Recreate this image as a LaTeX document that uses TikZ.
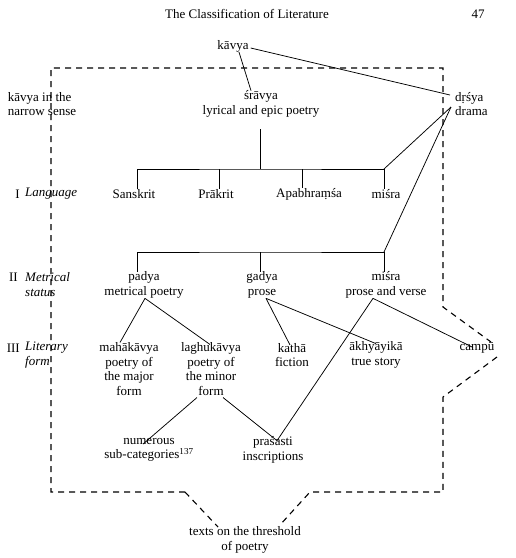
\documentclass[tikz,border=0pt]{standalone}
\usepackage{fontspec}
\setmainfont{Liberation Serif}
\begin{document}
\begin{tikzpicture}[x=1pt,y=-1pt,
  every node/.style={inner sep=0pt, font=\fontsize{13}{14.5}\selectfont},
  txt/.style={align=center},
  conn/.style={line width=0.75pt},
  frame/.style={line width=1.1pt, dash pattern=on 6pt off 5pt}]
\useasboundingbox (0,0) rectangle (516,558);
% header
\node (title) at (247,14) {The Classification of Literature};
\node (page) at (478,14) {47};
% top level
\node (kavya) at (233,46) {kāvya};
\node[txt, align=left] (narrow) at (42,104) {kāvya in the\\narrow sense};
\node[txt] (srav) at (261,104) {śrāvya\\lyrical and epic poetry};
\node[txt, align=left, anchor=west] (drsya) at (455,104) {dṛśya\\drama};
% row labels
\node[anchor=east] (n1) at (20,194) {I};
\node[anchor=west, font=\fontsize{13}{14.5}\selectfont\itshape] (l1) at (25,194) {Language};
\node[anchor=east] (n2) at (18,277) {II};
\node[anchor=west, align=left, font=\fontsize{13}{14.5}\selectfont\itshape] (l2) at (25,284.5) {Metrical\\status};
\node[anchor=east] (n3) at (20,348) {III};
\node[anchor=west, align=left, font=\fontsize{13}{14.5}\selectfont\itshape] (l3) at (25,355) {Literary\\form};
% row I
\node (sans) at (134,194) {Sanskrit};
\node (prak) at (216,194) {Prākrit};
\node (apa) at (309,194) {Apabhraṃśa};
\node (misra1) at (386,194) {miśra};
% row II
\node[txt] (padya) at (144,285) {padya\\metrical poetry};
\node[txt] (gadya) at (262,285) {gadya\\prose};
\node[txt] (misra2) at (386,285) {miśra\\prose and verse};
% row III
\node[txt] (maha) at (129,369) {mahākāvya\\poetry of\\the major\\form};
\node[txt] (laghu) at (211,369) {laghukāvya\\poetry of\\the minor\\form};
\node[txt] (katha) at (292,355) {kathā\\fiction};
\node[txt] (akh) at (376,355) {ākhyāyikā\\true story};
\node (campu) at (477,348) {campū};
% lower
\node[txt] (num) at (149,450) {numerous\\sub-categories\textsuperscript{137}};
\node[txt] (pras) at (273,450) {praśasti\\inscriptions};
\node[txt] (texts) at (245,540) {texts on the threshold\\of poetry};
% coordinates
\coordinate (sravroot) at ([yshift=-12pt,xshift=-1pt]srav.south);
\coordinate (bar1) at (260,169);
\coordinate (bar2) at (260,252);
\coordinate (dap) at ([xshift=-4pt,yshift=-3pt]drsya.west);
\coordinate (padyaJ) at ([xshift=1pt]padya.south);
\coordinate (gadyaJ) at ([xshift=4pt]gadya.south);
\coordinate (misraJ) at ([xshift=-13pt]misra2.south);
\coordinate (praApex) at ([xshift=4pt,yshift=-4pt]pras.north);
% connectors
\draw[conn] ([xshift=6pt]kavya.south) -- ([xshift=-10pt]srav.north);
\draw[conn] ([xshift=2pt,yshift=-2pt]kavya.east) -- ([xshift=-5pt,yshift=9pt]drsya.west);
\draw[conn] (sravroot) -- (bar1);
\draw[conn] ([xshift=3pt]sans.north) |- (bar1) -| ([xshift=-2pt]misra1.north);
\draw[conn] ([xshift=3pt]prak.north) -- ([xshift=3pt]prak.north |- bar1);
\draw[conn] ([xshift=-7pt]apa.north) -- ([xshift=-7pt]apa.north |- bar1);
\draw[conn] ([xshift=-2pt]misra1.north |- bar1) -- (dap);
\draw[conn] ([xshift=-7pt]padya.north) |- (bar2) -| ([xshift=-2pt]misra2.north);
\draw[conn] ([xshift=-2pt]gadya.north) -- ([xshift=-2pt]gadya.north |- bar2);
\draw[conn] ([xshift=-2pt]misra2.north |- bar2) -- (dap);
\draw[conn] (padyaJ) -- ([xshift=-9pt]maha.north);
\draw[conn] (padyaJ) -- ([xshift=-1pt,yshift=-2pt]laghu.north);
\draw[conn] (gadyaJ) -- ([xshift=-2pt,yshift=-2pt]katha.north);
\draw[conn] (gadyaJ) -- ([yshift=-2pt]akh.north);
\draw[conn] (misraJ) -- ([xshift=-4pt,yshift=-5pt]campu.north);
\draw[conn] (misraJ) -- (praApex);
\draw[conn] ([xshift=12pt,yshift=-2pt]laghu.south) -- (praApex);
\draw[conn] ([xshift=-14pt,yshift=-2pt]laghu.south) -- ([xshift=-6pt,yshift=-6pt]num.north);
% dashed frame
\draw[frame] (185,492) -- (51,492) -- (51,68) -- (443,68) -- (443,307) -- (491,342);
\draw[frame] (497,357) -- (443,397) -- (443,492) -- (310,492) -- (280,525);
\draw[frame] (185,492) -- (218,527);
\end{tikzpicture}
\end{document}
